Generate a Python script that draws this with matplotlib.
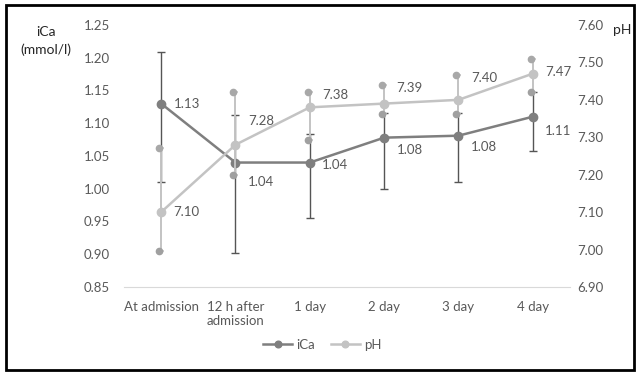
import matplotlib.pyplot as plt
from matplotlib.patches import Rectangle
import numpy as np

plt.rcParams["font.family"] = ["Lato", "DejaVu Sans"]

# data
categories = ["At admission", "12 h after\nadmission", "1 day", "2 day", "3 day", "4 day"]
ica = [1.13, 1.04, 1.04, 1.078, 1.081, 1.11]
ica_hi = [1.209, 1.113, 1.083, 1.116, 1.116, 1.148]
ica_lo = [1.011, 0.902, 0.955, 0.999, 1.011, 1.058]
ph = [7.10, 7.28, 7.38, 7.39, 7.40, 7.47]
ph_hi = [7.271, 7.422, 7.422, 7.440, 7.466, 7.508]
ph_lo = [6.996, 7.199, 7.293, 7.363, 7.363, 7.422]

# label offsets in points (x, y)
ica_off = [(9, 0), (9, -14), (9, -2), (9, -9), (9, -8), (9, -10)]
ph_off = [(9, 0), (9, 17), (9, 9), (9, 11), (9, 16), (9, 1)]

ica_col = "#7f7f7f"
ica_err = "#555555"
ph_col = "#c3c3c3"
txt = "#595959"

x = np.arange(len(categories))
ica_a = np.array(ica)
ph_a = np.array(ph)

fig = plt.figure(figsize=(6.39, 3.73), dpi=100)
ax = fig.add_axes([0.194, 0.2306, 0.698, 0.7024])
ax2 = ax.twinx()

# iCa
ax.errorbar(x, ica, yerr=[ica_a - np.array(ica_lo), np.array(ica_hi) - ica_a],
            fmt="none", ecolor=ica_err, elinewidth=1.0, capsize=3, capthick=1.0, zorder=2)
ax.plot(x, ica, color=ica_col, lw=1.8, marker="o", ms=6, zorder=3, label="iCa")
for xi, v, off in zip(x, ica, ica_off):
    ax.annotate(f"{v:.2f}", (xi, v), xytext=off, textcoords="offset points",
                ha="left", va="center", fontsize=9.5, color=txt)

# pH
ax2.errorbar(x, ph, yerr=[ph_a - np.array(ph_lo), np.array(ph_hi) - ph_a],
             fmt="none", ecolor=ph_col, elinewidth=1.4, capsize=2.5, capthick=1.1, zorder=2)
ax2.plot(x - 0.03, ph_hi, ls="none", marker="o", ms=4.5, color="#a8a8a8", zorder=2)
ax2.plot(x - 0.03, ph_lo, ls="none", marker="o", ms=4.5, color="#a0a0a0", zorder=2)
ax2.plot(x, ph, color=ph_col, lw=1.8, marker="o", ms=6, zorder=3, label="pH")
for xi, v, off in zip(x, ph, ph_off):
    ax2.annotate(f"{v:.2f}", (xi, v), xytext=off, textcoords="offset points",
                 ha="left", va="center", fontsize=9.5, color=txt)

ax.set_xlim(-0.5, 5.5)
ax.set_ylim(0.85, 1.25)
ax.set_yticks(np.arange(0.85, 1.2501, 0.05))
ax.set_yticklabels([f"{t:.2f}" for t in np.arange(0.85, 1.2501, 0.05)])
ax2.set_ylim(6.9, 7.6)
ax2.set_yticks(np.arange(6.9, 7.6001, 0.1))
ax2.set_yticklabels([f"{t:.2f}" for t in np.arange(6.9, 7.6001, 0.1)])
ax.set_xticks(x)
ax.set_xticklabels(categories)

for a in (ax, ax2):
    for s in a.spines.values():
        s.set_visible(False)
    a.tick_params(length=0, labelsize=9.5, colors=txt)
ax.spines["bottom"].set_visible(True)
ax.spines["bottom"].set_color("#d9d9d9")
ax.tick_params(axis="y", pad=10)
ax2.tick_params(axis="y", pad=5)
ax.tick_params(axis="x", pad=10)

fig.text(0.072, 0.915, "iCa", ha="center", va="center", fontsize=10, color="#262626")
fig.text(0.072, 0.868, "(mmol/l)", ha="center", va="center", fontsize=10, color="#262626")
fig.text(0.974, 0.92, "pH", ha="center", va="center", fontsize=10, color="#262626")

h1, l1 = ax.get_legend_handles_labels()
h2, l2 = ax2.get_legend_handles_labels()
fig.legend(h1 + h2, l1 + l2, loc="center", bbox_to_anchor=(0.504, 0.075), ncol=2,
           frameon=False, fontsize=9.5, handlelength=2.2, columnspacing=1.2,
           handletextpad=0.3, labelcolor=txt, markerscale=0.8)

fig.patches.append(Rectangle((0.0094, 0.008), 0.9826, 0.9786, transform=fig.transFigure,
                             fill=False, edgecolor="black", lw=2.0))

fig.savefig("out.png", dpi=100)
